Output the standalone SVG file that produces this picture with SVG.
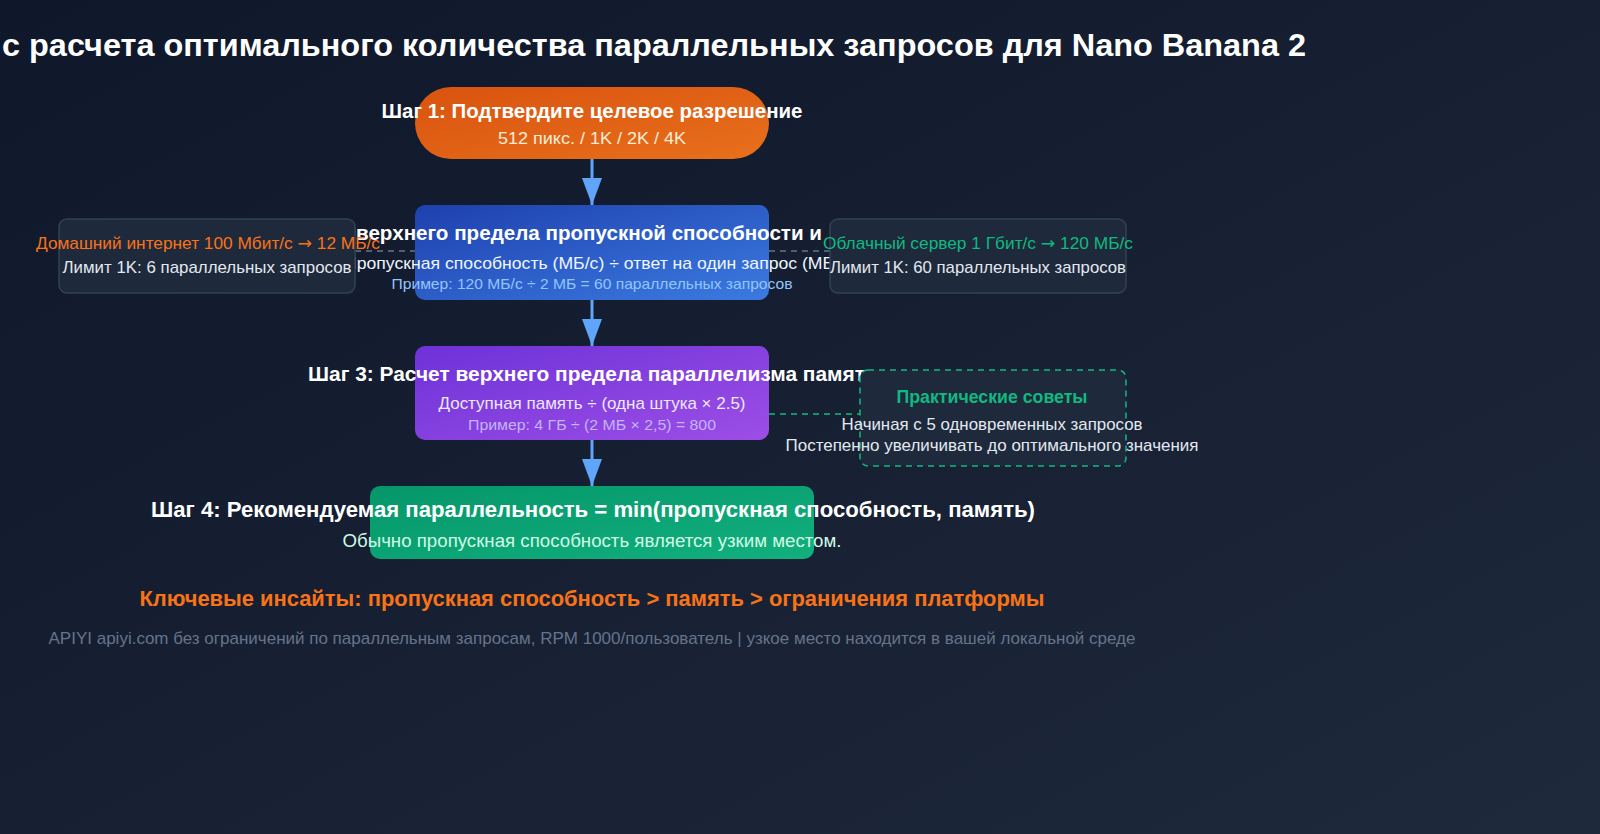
<svg xmlns="http://www.w3.org/2000/svg" width="1600" height="834" viewBox="0 0 1600 834">
<defs>
<linearGradient id="bg" x1="0" y1="0" x2="1" y2="1">
<stop offset="0" stop-color="#0f172a"/>
<stop offset="1" stop-color="#1e293b"/>
</linearGradient>
<linearGradient id="gOrange" x1="0" y1="0" x2="1" y2="1">
<stop offset="0" stop-color="#d9530f"/>
<stop offset="1" stop-color="#e8701c"/>
</linearGradient>
<linearGradient id="gBlue" x1="0" y1="0" x2="1" y2="1">
<stop offset="0" stop-color="#1e40af"/>
<stop offset="1" stop-color="#3b7ae0"/>
</linearGradient>
<linearGradient id="gPurple" x1="0" y1="0" x2="1" y2="1">
<stop offset="0" stop-color="#6d32d8"/>
<stop offset="1" stop-color="#9d4ee6"/>
</linearGradient>
<linearGradient id="gGreen" x1="0" y1="0" x2="1" y2="1">
<stop offset="0" stop-color="#059669"/>
<stop offset="1" stop-color="#12b07e"/>
</linearGradient>
<marker id="arrow" viewBox="0 0 27 20" refX="27" refY="10" markerWidth="27" markerHeight="20" markerUnits="userSpaceOnUse" orient="auto">
<path d="M0,0 L27,10 L0,20 Z" fill="#60a5fa"/>
</marker>
</defs>
<style>
text { font-family: "Liberation Sans", Arial, sans-serif; }
.title { font-size: 32px; font-weight: bold; fill: #ffffff; }
.h { font-size: 20px; font-weight: bold; fill: #ffffff; text-anchor: middle; }
.s { font-size: 17px; text-anchor: middle; }
.ex { font-size: 15px; text-anchor: middle; }
.ar { font-family: "DejaVu Sans", sans-serif; }
.side { fill: #1e293b; stroke: #334155; stroke-width: 1.5; }
.conn { stroke: #60a5fa; stroke-width: 3; fill: none; }
.dash { stroke: #64748b; stroke-width: 1.5; stroke-dasharray: 6 5; fill: none; }
.dashg { stroke: #10b981; stroke-width: 1.5; stroke-dasharray: 6 5; fill: none; }
</style>
<rect x="0" y="0" width="1600" height="834" fill="url(#bg)"/>
<text class="title" x="1306" y="56" text-anchor="end" textLength="1304" lengthAdjust="spacingAndGlyphs">с расчета оптимального количества параллельных запросов для Nano Banana 2</text>

<g id="connectors">
<line class="conn" x1="592" y1="159" x2="592" y2="205" marker-end="url(#arrow)"/>
<line class="conn" x1="592" y1="300" x2="592" y2="346" marker-end="url(#arrow)"/>
<line class="conn" x1="592" y1="440" x2="592" y2="486" marker-end="url(#arrow)"/>
<line class="dash" x1="355" y1="251" x2="415" y2="251"/>
<line class="dash" x1="769" y1="251" x2="830" y2="251"/>
<line class="dashg" x1="769" y1="414" x2="860" y2="414"/>
</g>

<g id="step1">
<rect x="415" y="87" width="354" height="72" rx="36" fill="url(#gOrange)"/>
<text class="h" x="592" y="118" textLength="421" lengthAdjust="spacingAndGlyphs">Шаг 1: Подтвердите целевое разрешение</text>
<text class="s" x="592" y="144" fill="#ffedd5" textLength="188" lengthAdjust="spacingAndGlyphs">512 пикс. / 1K / 2K / 4K</text>
</g>

<g id="step2">
<rect x="415" y="205" width="354" height="95" rx="10" fill="url(#gBlue)"/>
<text class="h" x="589" y="240" textLength="466" lengthAdjust="spacingAndGlyphs">верхнего предела пропускной способности и</text>
<text class="s" x="592" y="269" fill="#eff6ff" textLength="496" lengthAdjust="spacingAndGlyphs">Пропускная способность (МБ/с) ÷ ответ на один запрос (МБ)</text>
<text class="ex" x="592" y="289" fill="#93c5fd" textLength="401" lengthAdjust="spacingAndGlyphs">Пример: 120 МБ/с ÷ 2 МБ = 60 параллельных запросов</text>
</g>

<g id="home">
<rect class="side" x="59" y="219" width="296" height="74" rx="8"/>
<text class="s" x="208" y="249" fill="#f97316" textLength="344" lengthAdjust="spacingAndGlyphs">Домашний интернет 100 Мбит/с <tspan class="ar">→</tspan> 12 МБ/с</text>
<text class="s" x="207" y="273" fill="#e2e8f0" textLength="289" lengthAdjust="spacingAndGlyphs">Лимит 1K: 6 параллельных запросов</text>
</g>

<g id="cloud">
<rect class="side" x="830" y="219" width="296" height="74" rx="8"/>
<text class="s" x="978" y="249" fill="#10b981" textLength="310" lengthAdjust="spacingAndGlyphs">Облачный сервер 1 Гбит/с <tspan class="ar">→</tspan> 120 МБ/с</text>
<text class="s" x="978" y="273" fill="#e2e8f0" textLength="296" lengthAdjust="spacingAndGlyphs">Лимит 1K: 60 параллельных запросов</text>
</g>

<g id="step3">
<rect x="415" y="346" width="354" height="94" rx="10" fill="url(#gPurple)"/>
<text class="h" x="308" y="381" style="text-anchor:start" textLength="557" lengthAdjust="spacingAndGlyphs">Шаг 3: Расчет верхнего предела параллелизма памят</text>
<text class="s" x="592" y="409" fill="#ede9fe" textLength="307" lengthAdjust="spacingAndGlyphs">Доступная память ÷ (одна штука × 2.5)</text>
<text class="ex" x="592" y="430" fill="#c4b5fd" textLength="248" lengthAdjust="spacingAndGlyphs">Пример: 4 ГБ ÷ (2 МБ × 2,5) = 800</text>
</g>

<g id="tips">
<rect x="860" y="370" width="266" height="96" rx="8" fill="#1e293b" stroke="#10b981" stroke-width="1.5" stroke-dasharray="6 5"/>
<text class="s" x="992" y="403" fill="#10b981" font-weight="bold" style="font-size:18.5px" textLength="191" lengthAdjust="spacingAndGlyphs">Практические советы</text>
<text class="s" x="992" y="430" fill="#e2e8f0" textLength="301" lengthAdjust="spacingAndGlyphs">Начиная с 5 одновременных запросов</text>
<text class="s" x="992" y="451" fill="#e2e8f0" textLength="413" lengthAdjust="spacingAndGlyphs">Постепенно увеличивать до оптимального значения</text>
</g>

<g id="step4">
<rect x="370" y="486" width="444" height="73" rx="10" fill="url(#gGreen)"/>
<text class="h" x="593" y="517" style="font-size:22px" textLength="884" lengthAdjust="spacingAndGlyphs">Шаг 4: Рекомендуемая параллельность = min(пропускная способность, память)</text>
<text class="s" x="592" y="547" fill="#d1fae5" style="font-size:18px" textLength="499" lengthAdjust="spacingAndGlyphs">Обычно пропускная способность является узким местом.</text>
</g>

<text x="592" y="606" text-anchor="middle" font-size="22" font-weight="bold" fill="#f97316" textLength="905" lengthAdjust="spacingAndGlyphs">Ключевые инсайты: пропускная способность &gt; память &gt; ограничения платформы</text>
<text x="592" y="644" text-anchor="middle" font-size="17" fill="#64748b" textLength="1087" lengthAdjust="spacingAndGlyphs">APIYI apiyi.com без ограничений по параллельным запросам, RPM 1000/пользователь | узкое место находится в вашей локальной среде</text>
</svg>
